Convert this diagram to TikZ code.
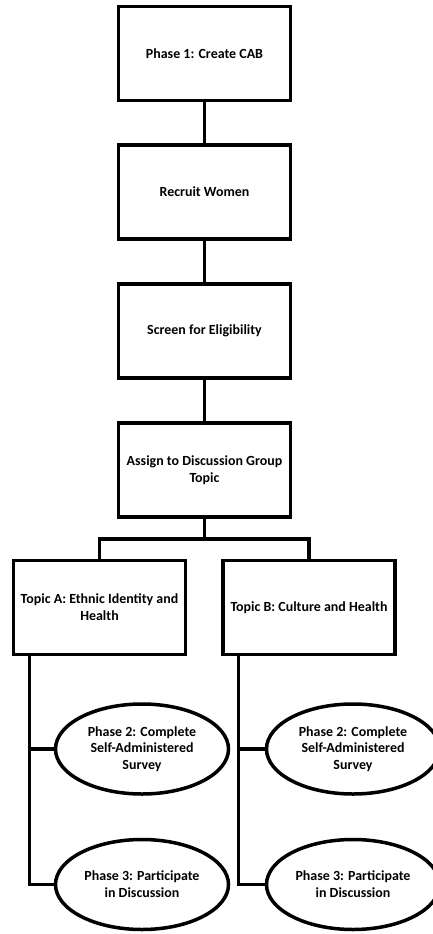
\documentclass[tikz,border=0pt]{standalone}
\usepackage{fontspec}
\setmainfont{Carlito}
\usetikzlibrary{shapes.geometric}
\begin{document}
\begin{tikzpicture}[x=1bp,y=-1bp,line width=3.5bp,
  stepbox/.style={draw,rectangle,minimum width=172bp,minimum height=94bp,inner sep=2bp,align=center,font=\fontsize{14}{16.8}\selectfont\bfseries},
  phase/.style={draw,ellipse,minimum width=173bp,minimum height=90bp,inner sep=0bp,align=center,font=\fontsize{14}{16.8}\selectfont\bfseries}]
\useasboundingbox (0,0) rectangle (432,934);
% main column
\node[stepbox] (cab) at (204.5,53.5) {Phase 1: Create CAB};
\node[stepbox] (recruit) at (204.5,192) {Recruit Women};
\node[stepbox] (screen) at (204.5,331) {Screen for Eligibility};
\node[stepbox] (assign) at (204.5,470) {Assign to Discussion Group\\Topic};
\draw (cab) -- (recruit);
\draw (recruit) -- (screen);
\draw (screen) -- (assign);
% the two topics
\node[stepbox] (topicA) at (99.5,607.5) {Topic A: Ethnic Identity and\\Health};
\node[stepbox] (topicB) at (309,607.5) {Topic B: Culture and Health};
\draw (assign.south) -- ++(0,20) coordinate (fork);
\draw (topicA.north) |- (fork) -| (topicB.north);
% phases 2 and 3
\node[phase] (surveyA) at (142,749) {Phase 2: Complete\\Self-Administered\\Survey};
\node[phase] (discussA) at (142,884.5) {Phase 3: Participate\\in Discussion};
\node[phase] (surveyB) at (353,749) {Phase 2: Complete\\Self-Administered\\Survey};
\node[phase] (discussB) at (353,884.5) {Phase 3: Participate\\in Discussion};
\coordinate (trunkA) at ([xshift=18bp]topicA.south west);
\coordinate (trunkB) at ([xshift=17bp]topicB.south west);
\draw (trunkA) |- (discussA.west);
\draw (trunkA |- surveyA.west) -- (surveyA.west);
\draw (trunkB) |- (discussB.west);
\draw (trunkB |- surveyB.west) -- (surveyB.west);
\end{tikzpicture}
\end{document}
